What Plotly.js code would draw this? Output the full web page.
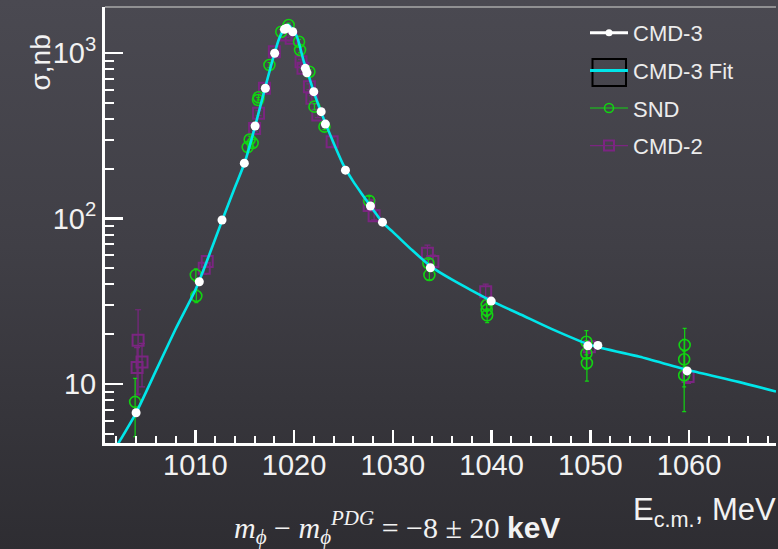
<!DOCTYPE html>
<html>
<head>
<meta charset="utf-8">
<script src="https://cdn.plot.ly/plotly-3.0.1.min.js"></script>
<style>
html,body{margin:0;padding:0;width:778px;height:549px;overflow:hidden;
background:linear-gradient(to bottom,#4a4951 0%,#403f46 45%,#2e2d32 100%);}
#chart{width:778px;height:549px;}
</style>
</head>
<body>
<div id="chart"></div>
<script>
// ---- data ----
const cmd3E = [1004.0,1010.4,1012.7,1014.96,1016.05,1017.09,1018.03,1019.02,1019.25,1019.86,1021.14,1021.3,1021.99,1022.74,1023.17,1025.2,1027.73,1028.95,1033.8,1039.96,1049.75,1050.76,1059.8];
const cmd3S = [6.7,41.5,98,216,362,612,996,1390,1410,1345,808,760,584,442,372,196,119,95,50.4,31.7,17.0,17.1,12.0];

const fitE = [1001.8,1004,1006,1008,1010,1011,1012,1013,1014,1015,1016,1017,1018,1018.5,1019,1019.4,1019.8,1020.3,1021,1021.5,1022,1023,1024,1025,1026,1027,1028,1029,1030,1032,1034,1036,1038,1040,1043,1046,1050,1055,1060,1065,1068.8];
const fitS = [4.0,6.7,12.0,21.5,37,52,75,108,154,218,352,595,990,1230,1400,1480,1400,1250,880,720,580,400,286,210,167,137,113,94,83,64,50.5,42.7,36.7,31.7,26.2,21.6,17.2,14.6,12.1,10.3,9.0];

const sndE = [1003.9,1010.05,1010.1,1015.3,1015.5,1015.8,1016.35,1016.4,1017.5,1018.7,1019.45,1020.5,1020.6,1021.55,1022.06,1023.07,1027.6,1033.6,1033.7,1039.5,1039.5,1039.55,1049.6,1049.6,1049.65,1059.55,1059.5,1059.5];
const sndS = [7.8,45.6,34,270,300,286,520,540,846,1345,1476,1170,1043,770,474,359,128,53.7,45.6,30,28,26,18,15.3,13.4,17.2,14.1,11.3];
const sndErr = [3.0,4,3,15,15,15,20,20,30,40,40,40,40,25,20,15,8,3,3,2.5,2.5,2.5,3,3,3,4.5,4.5,4.5];

const cmd2E = [1004.2,1004.1,1004.6,1010.9,1011.2,1016.0,1016.4,1017.0,1018.0,1019.2,1019.7,1020.7,1020.9,1021.55,1021.8,1022.4,1023.85,1027.6,1028.1,1033.5,1034.05,1039.4,1049.9,1059.9];
const cmd2S = [18.4,12.6,13.6,50,55,350,433,612,1018,1285,1227,886,808,626,532,422,291,120,104,61.6,55,36.1,16.8,11.1];
const cmd2Err = [9.7,4,4,4,4,15,15,20,30,40,40,30,30,25,20,15,20,6,6,7.5,5,4,1.5,1];

const xTicks = [1010,1020,1030,1040,1050,1060];
const yTicks = [10,100,1000];
const yTickText = ["10","10<sup>2</sup>","10<sup>3</sup>"];
const yMinor = [5,6,7,8,9,20,30,40,50,60,70,80,90,200,300,400,500,600,700,800,900];

// ---- styling ----
const W = 778, H = 549;
const M = {l:105, r:2, t:7, b:106};
const pw = W - M.l - M.r, ph = H - M.t - M.b;
const px2x = p => (p - M.l) / pw;
const py2y = p => (H - M.b - p) / ph;

const cyan = '#00e6ea', green = '#12d312', purple = '#7b2581';
const traces = [
  {x: cmd2E, y: cmd2S, type:'scatter', mode:'markers', showlegend:false,
   error_y:{type:'data', array:cmd2Err, color:purple, thickness:1.2, width:3},
   marker:{symbol:'square-open', size:11, color:purple, line:{width:2, color:purple}}},
  {x: sndE, y: sndS, type:'scatter', mode:'markers', showlegend:false,
   error_y:{type:'data', array:sndErr, color:green, thickness:1.2, width:2},
   marker:{symbol:'circle-open', size:11, color:green, line:{width:1.6, color:green}}},
  {x: fitE, y: fitS, type:'scatter', mode:'lines', showlegend:false,
   line:{color:cyan, width:2.6, shape:'spline', smoothing:0.6}},
  {x: cmd3E, y: cmd3S, type:'scatter', mode:'markers', showlegend:false,
   marker:{symbol:'circle', size:9, color:'#ffffff'}},
  // legend entries
  {x:[null], y:[null], type:'scatter', mode:'lines+markers', name:'CMD-3', legendgroup:'a',
   line:{color:'#ffffff', width:3}, marker:{symbol:'circle', size:7, color:'#ffffff'}},
  {x:[null], y:[null], type:'scatter', mode:'lines', name:'CMD-3 Fit', legendgroup:'b',
   line:{color:cyan, width:3}},
  {x:[null], y:[null], type:'scatter', mode:'lines+markers', name:'SND', legendgroup:'c',
   line:{color:green, width:1.2}, marker:{symbol:'circle-open', size:9, color:green, line:{width:1.6,color:green}}},
  {x:[null], y:[null], type:'scatter', mode:'lines+markers', name:'CMD-2', legendgroup:'d',
   line:{color:purple, width:1.2}, marker:{symbol:'square-open', size:10, color:purple, line:{width:2,color:purple}}}
];

const sans = 'Liberation Sans, Arial, sans-serif';
const layout = {
  width: W, height: H, margin: M,
  paper_bgcolor:'rgba(0,0,0,0)', plot_bgcolor:'rgba(0,0,0,0)',
  font:{family:sans, color:'#f2f2f2'},
  showlegend:true,
  legend:{x:px2x(585), xanchor:'left', y:py2y(12), yanchor:'top',
    bgcolor:'rgba(0,0,0,0)', borderwidth:0, font:{size:22, color:'#ececec', family:sans},
    traceorder:'grouped', tracegroupgap:6, itemwidth:38},
  xaxis:{type:'linear', range:[1000.85,1068.8], showgrid:false, zeroline:false,
    showline:true, linecolor:'#ffffff', linewidth:3,
    tickmode:'array', tickvals:xTicks, ticks:'inside', ticklen:13, tickwidth:2.5, tickcolor:'#ffffff',
    ticklabelstandoff:-6,
    tickfont:{size:29, color:'#f2f2f2', family:sans},
    minor:{tickmode:'linear', tick0:1000, dtick:2, ticks:'inside', ticklen:7, tickwidth:2, tickcolor:'#ffffff'}},
  yaxis:{type:'log', range:[0.6435,3.278], showgrid:false, zeroline:false,
    showline:true, linecolor:'#ffffff', linewidth:3,
    tickmode:'array', tickvals:yTicks, ticktext:yTickText, ticks:'inside', ticklen:18, tickwidth:2.5, tickcolor:'#ffffff',
    tickfont:{size:29, color:'#f2f2f2', family:sans},
    minor:{tickmode:'array', tickvals:yMinor, ticks:'inside', ticklen:9, tickwidth:2, tickcolor:'#ffffff'}},
  shapes:[
    {type:'line', xref:'paper', yref:'paper', x0:0, x1:1, y0:1, y1:1, line:{color:'#a8a8a8', width:1.5}},
    {type:'rect', xref:'paper', yref:'paper', x0:px2x(592.5), x1:px2x(626), y0:py2y(86), y1:py2y(59),
     line:{color:'#000000', width:2}, fillcolor:'rgba(0,0,0,0)'}
  ],
  annotations:[
    {text:'σ,nb', xref:'paper', yref:'paper', x:px2x(23), y:py2y(33), textangle:-90,
     showarrow:false, font:{size:28, color:'#f2f2f2', family:sans}},
    {text:'E<sub>c.m.</sub>, MeV', xref:'paper', yref:'paper', x:px2x(778), y:py2y(534), xanchor:'right',
     showarrow:false, font:{size:31, color:'#f2f2f2', family:sans}},
    {text:'<i>m</i><sub><i>ϕ</i></sub> − <i>m</i><sub><i>ϕ</i></sub><sup><i>PDG</i></sup> = −8 ± 20 <span style="font-family:Liberation Sans, Arial;font-weight:bold">keV</span>',
     xref:'paper', yref:'paper', x:px2x(397), y:py2y(551),
     showarrow:false, font:{size:30, color:'#f2f2f2', family:'Liberation Serif, DejaVu Serif, serif'}}
  ]
};
Plotly.newPlot('chart', traces, layout, {displayModeBar:false, staticPlot:true});
</script>
</body>
</html>
